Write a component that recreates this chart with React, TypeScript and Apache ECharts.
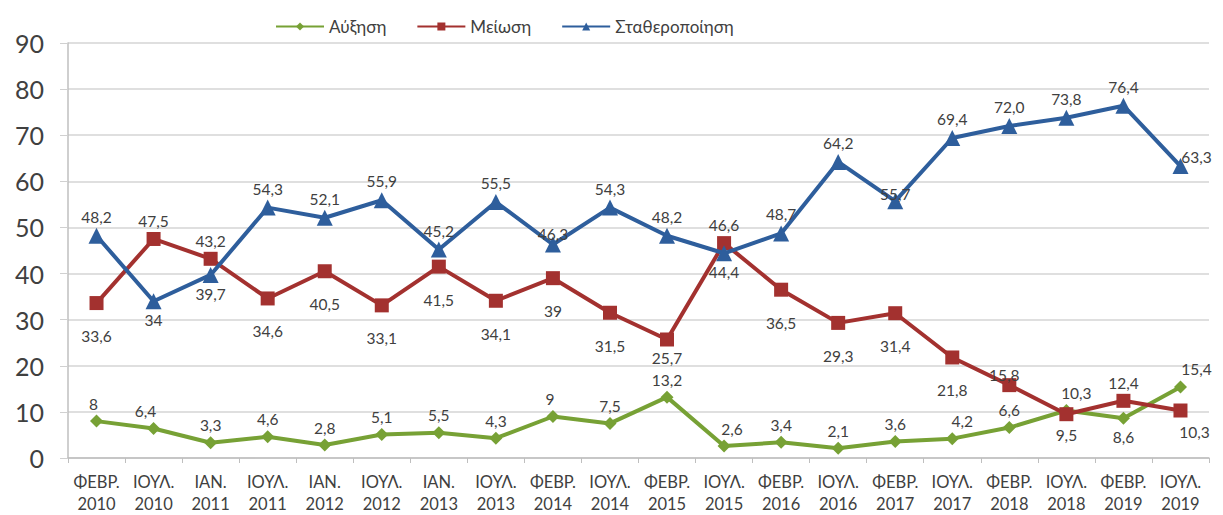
import React, { useEffect, useRef } from "react";
import * as echarts from "echarts";

const categories = [
  "ΦΕΒΡ.\n2010", "ΙΟΥΛ.\n2010", "ΙΑΝ.\n2011", "ΙΟΥΛ.\n2011", "ΙΑΝ.\n2012",
  "ΙΟΥΛ.\n2012", "ΙΑΝ.\n2013", "ΙΟΥΛ.\n2013", "ΦΕΒΡ.\n2014", "ΙΟΥΛ.\n2014",
  "ΦΕΒΡ.\n2015", "ΙΟΥΛ.\n2015", "ΦΕΒΡ.\n2016", "ΙΟΥΛ.\n2016", "ΦΕΒΡ.\n2017",
  "ΙΟΥΛ.\n2017", "ΦΕΒΡ.\n2018", "ΙΟΥΛ.\n2018", "ΦΕΒΡ.\n2019", "ΙΟΥΛ.\n2019",
];

const increase = [8, 6.4, 3.3, 4.6, 2.8, 5.1, 5.5, 4.3, 9, 7.5, 13.2, 2.6, 3.4, 2.1, 3.6, 4.2, 6.6, 10.3, 8.6, 15.4];
const increaseLabels = ["8", "6,4", "3,3", "4,6", "2,8", "5,1", "5,5", "4,3", "9", "7,5", "13,2", "2,6", "3,4", "2,1", "3,6", "4,2", "6,6", "10,3", "8,6", "15,4"];

const decrease = [33.6, 47.5, 43.2, 34.6, 40.5, 33.1, 41.5, 34.1, 39, 31.5, 25.7, 46.6, 36.5, 29.3, 31.4, 21.8, 15.8, 9.5, 12.4, 10.3];
const decreaseLabels = ["33,6", "47,5", "43,2", "34,6", "40,5", "33,1", "41,5", "34,1", "39", "31,5", "25,7", "46,6", "36,5", "29,3", "31,4", "21,8", "15,8", "9,5", "12,4", "10,3"];

const stable = [48.2, 34, 39.7, 54.3, 52.1, 55.9, 45.2, 55.5, 46.3, 54.3, 48.2, 44.4, 48.7, 64.2, 55.7, 69.4, 72.0, 73.8, 76.4, 63.3];
const stableLabels = ["48,2", "34", "39,7", "54,3", "52,1", "55,9", "45,2", "55,5", "46,3", "54,3", "48,2", "44,4", "48,7", "64,2", "55,7", "69,4", "72,0", "73,8", "76,4", "63,3"];

const yTicks = [0, 10, 20, 30, 40, 50, 60, 70, 80, 90];

// label placement (style only)
const increasePos = ["top", "top", "top", "top", "top", "top", "top", "top", "top", "top", "top", "top", "top", "top", "top", "top", "top", "top", "bottom", "top"];
const increaseOff: number[][] = [[-3, 0], [-8, 0], [0, 0], [0, 0], [0, 0], [0, 0], [0, 0], [0, 0], [-3, 0], [0, 0], [0, 0], [8, 0], [0, 0], [0, 0], [0, 0], [10, 0], [0, 0], [10, 0], [0, 0], [16, 0]];
const decreasePos = ["bottom", "top", "top", "bottom", "bottom", "bottom", "bottom", "bottom", "bottom", "bottom", "bottom", "top", "bottom", "bottom", "bottom", "bottom", "top", "bottom", "top", "bottom"];
const decreaseOff: number[][] = [[0, 0], [0, 0], [0, 0], [0, 0], [0, 0], [0, 0], [0, 0], [0, 0], [0, 0], [0, 0], [0, -14], [0, 0], [0, 0], [0, 0], [0, 0], [0, 0], [-5, 8], [0, -12], [0, 0], [14, -12]];
const stablePos = ["top", "bottom", "bottom", "top", "top", "top", "top", "top", "top", "top", "top", "bottom", "top", "top", "top", "top", "top", "top", "top", "top"];
const stableOff: number[][] = [[0, 0], [0, 0], [0, 0], [0, 0], [0, 0], [0, 0], [0, 0], [0, 0], [0, 8], [0, 0], [0, 0], [0, 0], [0, 0], [0, 0], [0, 12], [0, 0], [0, 0], [0, 0], [0, 0], [16, 10]];

const GREEN = "#77A135";
const RED = "#A3312F";
const BLUE = "#2E5E9C";
const FONT = "Lato, 'Open Sans', sans-serif";

function build(values: number[], labels: string[], pos: string[], off: number[][], dist: number) {
  return values.map((v, i) => ({
    value: v,
    label: {
      show: true,
      position: pos[i],
      offset: off[i],
      distance: pos[i] === "bottom" ? dist : 3,
      formatter: () => labels[i],
    },
  }));
}

export default function App() {
  const ref = useRef<HTMLDivElement>(null);
  useEffect(() => {
    if (!ref.current) return;
    const chart = echarts.init(ref.current, null, { renderer: "svg" });
    const labelStyle = { color: "#404040", fontSize: 15.5, fontFamily: FONT };
    chart.setOption({
      animation: false,
      backgroundColor: "#ffffff",
      textStyle: { fontFamily: FONT },
      legend: {
        top: 5,
        left: 262,
        itemWidth: 48,
        itemHeight: 10,
        itemGap: 30,
        textStyle: { fontSize: 17, color: "#404040", fontFamily: FONT },
        data: ["Αύξηση", "Μείωση", "Σταθεροποίηση"],
      },
      grid: { left: 60, right: 6, top: 35, bottom: 57, outerBoundsMode: "none", containLabel: false },
      xAxis: {
        type: "category",
        data: categories,
        boundaryGap: true,
        axisLine: { lineStyle: { color: "#bfbfbf", width: 1.5 } },
        axisTick: { show: true, length: 5, lineStyle: { color: "#bfbfbf" } },
        axisLabel: { color: "#404040", fontSize: 16.5, lineHeight: 22, margin: 13, fontFamily: FONT, interval: 0 },
      },
      yAxis: {
        type: "value",
        min: 0,
        max: 90,
        interval: 10,
        axisLine: { show: true, lineStyle: { color: "#bfbfbf", width: 1.5 } },
        axisTick: { show: true, length: 8, lineStyle: { color: "#d0d0d0" } },
        splitLine: { lineStyle: { color: "#d4d4d4", width: 1.5 } },
        axisLabel: {
          color: "#404040",
          fontSize: 25,
          margin: 24,
          fontFamily: FONT,
          formatter: (v: number) => (yTicks.includes(v) ? String(v) : ""),
        },
      },
      series: [
        {
          name: "Αύξηση",
          type: "line",
          data: build(increase, increaseLabels, increasePos, increaseOff, 4),
          symbol: "diamond",
          symbolSize: 13,
          lineStyle: { color: GREEN, width: 4 },
          itemStyle: { color: GREEN },
          label: labelStyle,
          z: 3,
        },
        {
          name: "Μείωση",
          type: "line",
          data: build(decrease, decreaseLabels, decreasePos, decreaseOff, 18),
          symbol: "rect",
          symbolSize: 14,
          lineStyle: { color: RED, width: 4 },
          itemStyle: { color: RED },
          label: labelStyle,
          z: 4,
        },
        {
          name: "Σταθεροποίηση",
          type: "line",
          data: build(stable, stableLabels, stablePos, stableOff, 3),
          symbol: "triangle",
          symbolSize: 16,
          lineStyle: { color: BLUE, width: 4 },
          itemStyle: { color: BLUE },
          label: labelStyle,
          z: 5,
        },
      ],
    });
    return () => chart.dispose();
  }, []);
  return <div ref={ref} style={{ width: 1207, height: 507 }} />;
}
